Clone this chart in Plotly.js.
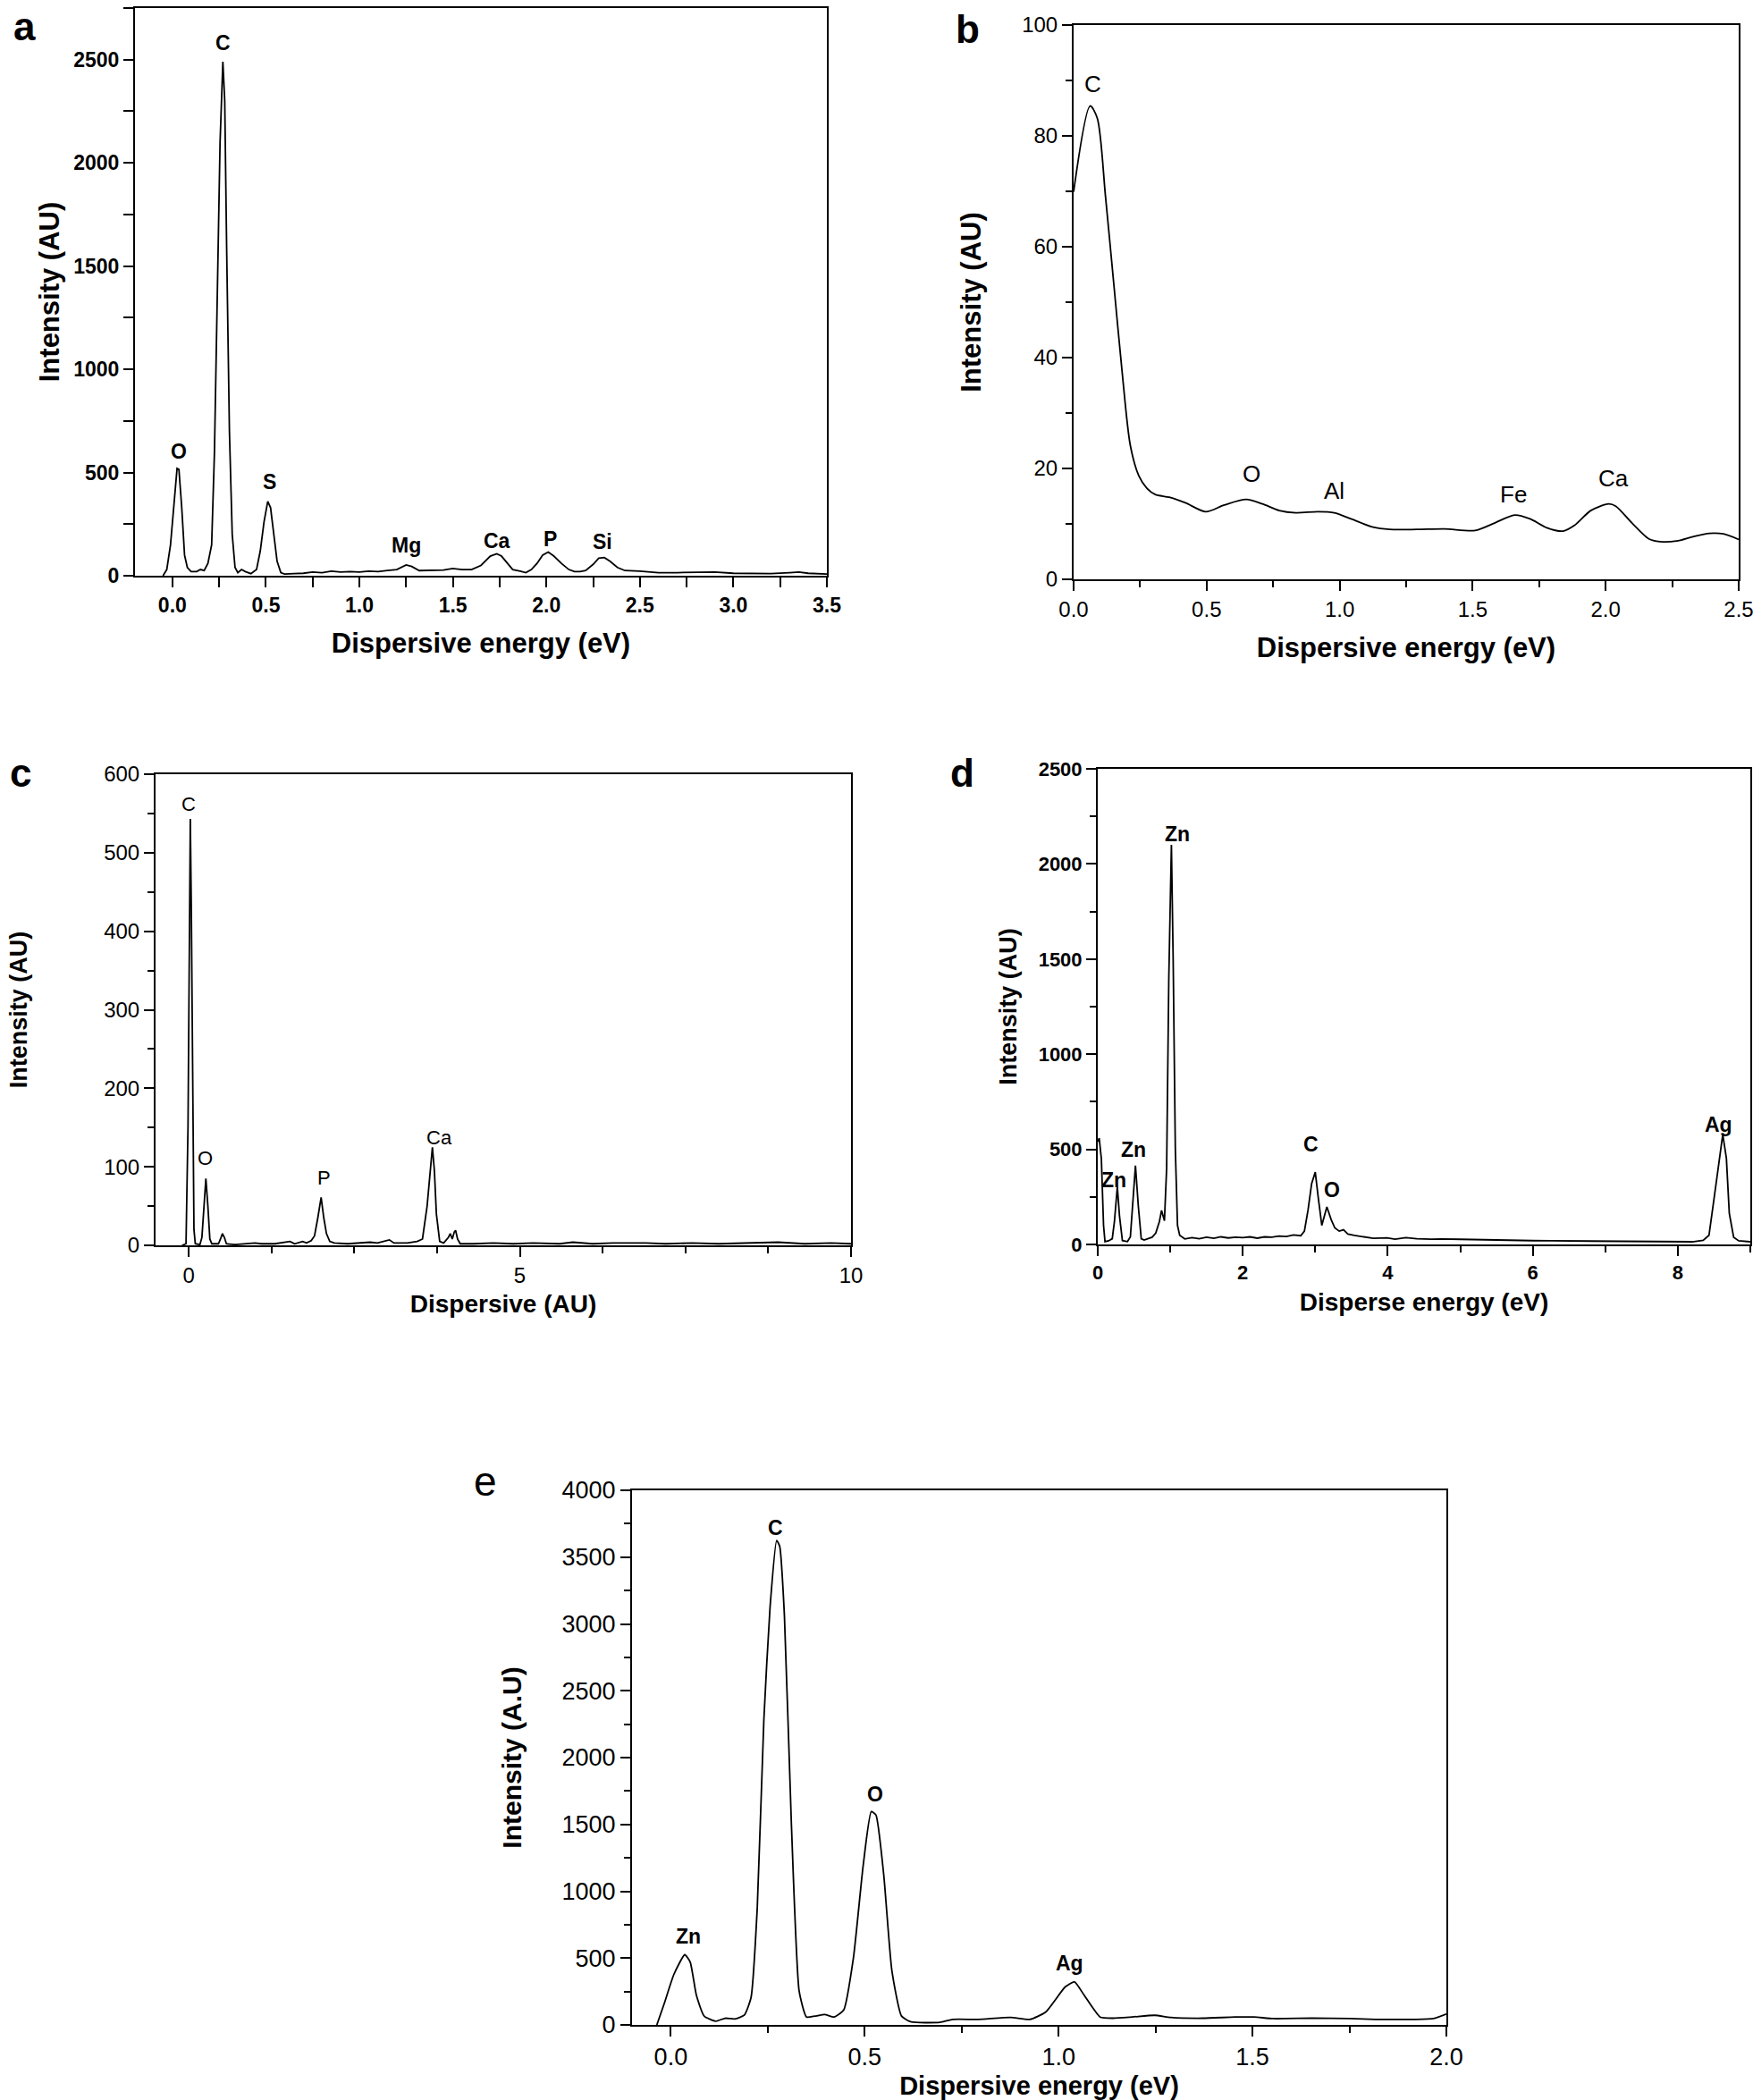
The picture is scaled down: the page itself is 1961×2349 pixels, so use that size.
<!DOCTYPE html>
<html>
<head>
<meta charset="utf-8">
<script src="https://cdn.plot.ly/plotly-3.0.1.min.js"></script>
<style>
html,body{margin:0;padding:0;background:#fff;}
#chart{width:1961px;height:2349px;}
</style>
</head>
<body>
<div id="chart"></div>
<script>
// ---------------- DATA ----------------
// Panel a: EDS spectrum
const aEnergy = [-0.05,-0.03,-0.01,0.01,0.025,0.035,0.05,0.065,0.08,0.1,0.13,0.15,0.17,0.19,0.21,0.225,0.24,0.255,0.27,0.28,0.29,0.305,0.32,0.335,0.35,0.37,0.39,0.42,0.45,0.47,0.49,0.51,0.525,0.54,0.56,0.58,0.6,0.65,0.7,0.75,0.8,0.85,0.9,0.95,1.0,1.05,1.1,1.15,1.2,1.25,1.28,1.32,1.4,1.45,1.5,1.55,1.6,1.65,1.7,1.735,1.76,1.79,1.82,1.86,1.89,1.92,1.95,1.98,2.01,2.04,2.08,2.12,2.15,2.18,2.21,2.25,2.28,2.31,2.34,2.38,2.42,2.5,2.6,2.7,2.8,2.9,3.0,3.1,3.2,3.3,3.35,3.4,3.5];
const aIntensity = [0,30,150,380,520,515,330,100,40,20,20,30,25,60,150,600,1300,2100,2490,2300,1600,700,200,40,15,30,20,10,30,120,260,360,330,210,70,15,8,10,12,18,15,22,18,20,18,22,20,25,30,52,45,25,25,28,35,30,30,50,95,106,95,60,30,22,15,30,60,100,115,95,60,30,20,20,25,55,85,88,70,40,25,22,15,15,15,18,12,12,10,15,18,12,8];
const aLabels = ["O","C","S","Mg","Ca","P","Si"];
const aLabelX = [0.035,0.27,0.52,1.25,1.735,2.02,2.3];
const aLabelY = [603,2580,455,148,170,176,165];

// Panel b
const bEnergy = [0,0.062,0.089,0.12,0.151,0.182,0.213,0.245,0.276,0.307,0.359,0.42,0.497,0.566,0.649,0.71,0.773,0.835,0.918,0.98,1.043,1.126,1.188,1.29,1.395,1.509,1.58,1.658,1.716,1.779,1.84,1.882,1.944,2.011,2.038,2.1,2.162,2.204,2.266,2.328,2.39,2.442,2.5];
const bIntensity = [69.9,85.4,83.2,69,53.3,37.6,24.2,18.7,16.4,15.3,14.8,13.8,12.2,13.4,14.4,13.6,12.4,12.0,12.2,12.0,10.9,9.4,9.0,9.0,9.1,8.8,10.1,11.6,10.9,9.3,8.7,9.7,12.4,13.6,13.2,10.1,7.3,6.8,6.9,7.7,8.3,8.2,7.2];
const bLabels = ["C","O","Al","Fe","Ca"];
const bLabelX = [0.073,0.67,0.98,1.654,2.03];
const bLabelY = [89.4,19.1,16.0,15.3,18.3];

// Panel c
const cEnergy = [-0.1,-0.04,-0.01,0.01,0.025,0.04,0.06,0.08,0.1,0.17,0.2,0.23,0.26,0.29,0.32,0.35,0.45,0.48,0.51,0.54,0.57,0.7,0.9,1.0,1.1,1.3,1.53,1.6,1.72,1.78,1.85,1.9,1.95,2.0,2.04,2.08,2.13,2.2,2.4,2.6,2.74,2.85,3.03,3.1,3.3,3.45,3.53,3.6,3.65,3.68,3.71,3.74,3.79,3.85,3.92,3.95,3.98,4.01,4.03,4.06,4.1,4.3,4.6,4.9,5.2,5.6,5.8,6.1,6.4,6.9,7.2,7.6,8.0,8.5,8.9,9.3,9.7,10];
const cIntensity = [0,2,150,450,543,430,180,20,2,1,10,50,85,50,8,2,2,8,15,10,2,1,2,3,2,2,5,2,5,3,6,12,35,61,35,15,5,3,2,3,4,3,7,3,3,5,8,50,100,125,95,40,5,3,10,15,8,17,19,8,2,2,3,2,3,2,4,2,3,3,2,3,2,3,4,2,3,2];
const cLabels = ["C","O","P","Ca"];
const cLabelX = [0.0,0.246,2.05,3.78];
const cLabelY = [562,111,86,137];

// Panel d
const dEnergy = [0,0.02,0.05,0.08,0.1,0.15,0.2,0.23,0.27,0.3,0.34,0.41,0.45,0.48,0.52,0.56,0.6,0.64,0.7,0.75,0.8,0.85,0.88,0.92,0.95,0.98,1.016,1.04,1.07,1.1,1.13,1.2,1.3,1.4,1.5,1.6,1.7,1.8,1.9,2.0,2.1,2.2,2.3,2.4,2.5,2.6,2.7,2.8,2.85,2.9,2.95,3.0,3.04,3.09,3.16,3.22,3.27,3.33,3.39,3.45,3.54,3.7,3.8,3.99,4.1,4.25,4.4,4.6,4.74,5.0,5.2,5.49,5.7,6.0,6.25,6.5,7.0,7.3,7.75,8.0,8.2,8.35,8.43,8.5,8.58,8.62,8.67,8.71,8.77,8.84,9.0];
const dIntensity = [540,559,450,100,15,19,30,120,303,150,20,15,40,200,414,200,30,23,30,38,60,120,179,125,400,1400,2101,1500,500,100,48,29,36,30,38,32,40,34,38,36,40,33,40,38,44,42,50,46,70,180,320,380,250,100,197,130,87,70,77,55,48,40,32,35,28,36,30,28,29,27,25,23,22,20,19,18,19,17,15,15,14,22,48,241,472,578,453,164,38,19,14];
const dLabels = ["Zn","Zn","Zn","C","O","Ag"];
const dLabelX = [1.10,0.49,0.226,2.935,3.236,8.565];
const dLabelY = [2159,497,337,526,289,630];

// Panel e
const eEnergy = [-0.036,-0.017,0.008,0.036,0.05,0.066,0.086,0.116,0.14,0.165,0.19,0.207,0.223,0.24,0.256,0.273,0.281,0.293,0.311,0.331,0.35,0.372,0.397,0.421,0.446,0.471,0.496,0.517,0.529,0.549,0.57,0.595,0.62,0.694,0.727,0.793,0.876,0.926,0.967,1.017,1.041,1.066,1.107,1.14,1.19,1.248,1.289,1.372,1.455,1.504,1.554,1.653,1.752,1.818,1.917,1.967,2.0];
const eIntensity = [0,159,378,525,471,222,66,28,50,44,75,206,877,2283,3126,3625,3579,3063,1502,253,59,66,78,59,112,503,1190,1596,1571,1127,409,66,22,19,41,41,56,41,97,284,322,222,59,50,59,72,56,50,59,59,47,50,47,41,41,47,81];
const eLabels = ["Zn","C","O","Ag"];
const eLabelX = [0.045,0.27,0.526,1.028];
const eLabelY = [659,3719,1727,462];

const panelLetters = ["a","b","c","d","e"];

// ---------------- LAYOUT HELPERS ----------------
const W = 1961, H = 2349;
const xd = (l, r) => [l / W, r / W];
const yd = (t, b) => [1 - b / H, 1 - t / H];

const NARROW = "Liberation Sans Narrow, Arial Narrow, Liberation Sans, Arial, sans-serif";
const SANS = "Liberation Sans, Arial, Helvetica, sans-serif";

function axis(o) {
  return {
    domain: o.domain,
    anchor: o.anchor,
    range: o.range,
    autorange: false,
    showline: true, linecolor: '#000', linewidth: 2, mirror: true,
    ticks: 'outside', ticklen: 11, tickwidth: 2, tickcolor: '#000',
    tick0: o.tick0 !== undefined ? o.tick0 : 0,
    dtick: o.dtick,
    tickformat: o.tickformat || '',
    ticklabeloverflow: 'allow',
    minor: {dtick: o.minor, ticks: 'outside', ticklen: o.minorlen || 7, tickwidth: 2, tickcolor: '#000', showgrid: false},
    showgrid: false, zeroline: false,
    tickfont: o.tickfont,
    title: {text: o.title, font: o.titlefont, standoff: o.standoff},
    automargin: false,
    fixedrange: true
  };
}

const tfA = {family: NARROW, size: 23, color: '#000', weight: 'bold'};
const ttA = {family: NARROW, size: 31, color: '#000', weight: 'bold'};

const layout = {
  width: W, height: H,
  margin: {l: 0, r: 0, t: 0, b: 0, pad: 0},
  paper_bgcolor: '#fff', plot_bgcolor: 'rgba(0,0,0,0)',
  showlegend: false,
  font: {family: SANS, color: '#000'},
  xaxis: axis({domain: xd(151, 925), anchor: 'y', range: [-0.2, 3.5], dtick: 0.5, minor: 0.25, minorlen: 11, tickformat: '.1f',
    tickfont: tfA, title: 'Dispersive energy (eV)', titlefont: ttA, standoff: 20}),
  yaxis: axis({domain: yd(9, 644), anchor: 'x', range: [0, 2750], dtick: 500, minor: 250, minorlen: 11,
    tickfont: tfA, title: 'Intensity (AU)', titlefont: ttA, standoff: 6}),

  xaxis2: axis({domain: xd(1201, 1945), anchor: 'y2', range: [0, 2.5], dtick: 0.5, minor: 0.25, tickformat: '.1f',
    tickfont: {family: SANS, size: 24, color: '#000'}, title: 'Dispersive energy (eV)', titlefont: ttA, standoff: 20}),
  yaxis2: axis({domain: yd(28, 648), anchor: 'x2', range: [0, 100], dtick: 20, minor: 10,
    tickfont: {family: SANS, size: 24, color: '#000'}, title: 'Intensity (AU)', titlefont: ttA, standoff: 36}),

  xaxis3: axis({domain: xd(174, 952), anchor: 'y3', range: [-0.5, 10], dtick: 5, minor: 1.25,
    tickfont: {family: SANS, size: 24, color: '#000'}, title: 'Dispersive (AU)', titlefont: {family: NARROW, size: 28, color: '#000', weight: 'bold'}, standoff: 10}),
  yaxis3: axis({domain: yd(866, 1393), anchor: 'x3', range: [0, 600], dtick: 100, minor: 50,
    tickfont: {family: SANS, size: 24, color: '#000'}, title: 'Intensity (AU)', titlefont: {family: SANS, size: 27, color: '#000', weight: 'bold'}, standoff: 78}),

  xaxis4: axis({domain: xd(1228, 1958), anchor: 'y4', range: [0, 9], dtick: 2, minor: 1,
    tickfont: {family: NARROW, size: 22, color: '#000', weight: 'bold'}, title: 'Disperse energy (eV)', titlefont: {family: NARROW, size: 28, color: '#000', weight: 'bold'}, standoff: 11}),
  yaxis4: axis({domain: yd(860, 1392), anchor: 'x4', range: [0, 2500], dtick: 500, minor: 250,
    tickfont: {family: NARROW, size: 22, color: '#000', weight: 'bold'}, title: 'Intensity (AU)', titlefont: {family: SANS, size: 27, color: '#000', weight: 'bold'}, standoff: 16}),

  xaxis5: axis({domain: xd(707, 1618), anchor: 'y5', range: [-0.1, 2.0], dtick: 0.5, minor: 0.25, tickformat: '.1f',
    tickfont: {family: SANS, size: 27, color: '#000'}, title: 'Dispersive energy (eV)', titlefont: {family: SANS, size: 29, color: '#000', weight: 'bold'}, standoff: 8}),
  yaxis5: axis({domain: yd(1667, 2265), anchor: 'x5', range: [0, 4000], dtick: 500, minor: 250,
    tickfont: {family: SANS, size: 27, color: '#000'}, title: 'Intensity (A.U)', titlefont: {family: SANS, size: 30, color: '#000', weight: 'bold'}, standoff: 36}),
  annotations: []
};

// ---------------- TRACES ----------------
const lineStyle = {color: '#000', width: 1.8};
const traces = [
  {x: aEnergy, y: aIntensity, xaxis: 'x', yaxis: 'y'},
  {x: bEnergy, y: bIntensity, xaxis: 'x2', yaxis: 'y2', line: {shape: 'spline', smoothing: 0.8}},
  {x: cEnergy, y: cIntensity, xaxis: 'x3', yaxis: 'y3'},
  {x: dEnergy, y: dIntensity, xaxis: 'x4', yaxis: 'y4'},
  {x: eEnergy, y: eIntensity, xaxis: 'x5', yaxis: 'y5', line: {shape: 'spline', smoothing: 0.5}}
].map(t => Object.assign({type: 'scatter', mode: 'lines', hoverinfo: 'skip'}, t, {line: Object.assign({}, lineStyle, t.line || {})}));

// ---------------- PEAK LABELS ----------------
function addLabels(texts, xs, ys, xref, yref, font) {
  texts.forEach((t, i) => {
    layout.annotations.push({text: t, x: xs[i], y: ys[i], xref: xref, yref: yref,
      showarrow: false, xanchor: 'center', yanchor: 'middle', font: font});
  });
}
addLabels(aLabels, aLabelX, aLabelY, 'x', 'y', {family: NARROW, size: 23, color: '#000', weight: 'bold'});
addLabels(bLabels, bLabelX, bLabelY, 'x2', 'y2', {family: SANS, size: 26, color: '#000'});
addLabels(cLabels, cLabelX, cLabelY, 'x3', 'y3', {family: SANS, size: 22, color: '#000'});
addLabels(dLabels, dLabelX, dLabelY, 'x4', 'y4', {family: NARROW, size: 23, color: '#000', weight: 'bold'});
addLabels(eLabels, eLabelX, eLabelY, 'x5', 'y5', {family: SANS, size: 23, color: '#000', weight: 'bold'});

// panel letters
const letterPos = [[27, 29], [1082, 33], [23, 864], [1076, 865], [543, 1657]];
panelLetters.forEach((t, i) => {
  const bold = i < 4;
  layout.annotations.push({text: t, xref: 'paper', yref: 'paper',
    x: letterPos[i][0] / W, y: 1 - letterPos[i][1] / H, xanchor: 'center', yanchor: 'middle',
    showarrow: false, font: {family: SANS, size: bold ? 44 : 46, color: '#000', weight: bold ? 'bold' : 'normal'}});
});

Plotly.newPlot('chart', traces, layout, {staticPlot: true, displayModeBar: false});
</script>
</body>
</html>
